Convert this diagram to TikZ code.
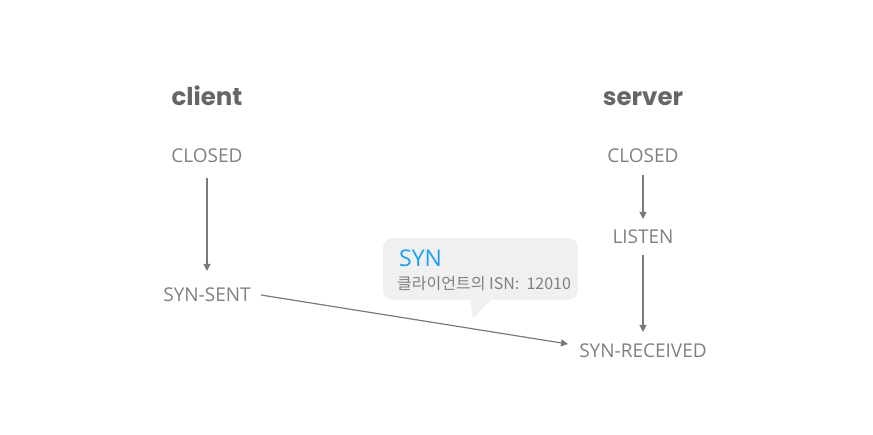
\documentclass[tikz,border=0pt]{standalone}
\usepackage{fontspec}
\setmainfont{Open Sans}
\newfontfamily\titlefont{Poppins}
\newfontfamily\krfont{Noto Sans CJK KR}
\usetikzlibrary{arrows.meta}
\definecolor{txt}{HTML}{808080}
\definecolor{ttl}{HTML}{666666}
\definecolor{arr}{HTML}{7A7A7A}
\definecolor{bub}{HTML}{F0F0F0}
\definecolor{synblue}{HTML}{1AA0F5}
\begin{document}
\begin{tikzpicture}[x=1pt,y=-1pt,
  state/.style={text=txt,font=\fontsize{19}{21}\selectfont,inner sep=0pt,anchor=center},
  title/.style={text=ttl,font=\titlefont\bfseries\fontsize{24.5}{27}\selectfont,inner sep=0pt,anchor=base},
  conn/.style={draw=arr,line width=1.2pt,-{Triangle[width=7pt,length=7pt]}}]
\useasboundingbox (0,0) rectangle (873,435);
\node[title] (client) at (207,106) {client};
\node[title] (server) at (643,106) {server};
\node[state] (cclosed) at (207,156) {CLOSED};
\node[state] (synsent) at (207,295) {SYN-SENT};
\node[state] (sclosed) at (643,156) {CLOSED};
\node[state] (listen) at (643,237) {LISTEN};
\node[state] (synrcvd) at (643,351) {SYN-RECEIVED};
% bubble
\fill[bub,rounded corners=10pt] (383,238) rectangle (578,300);
\fill[bub] (470,299) -- (473,318) -- (492,299) -- cycle;
\node[text=synblue,font=\fontsize{23}{25}\selectfont,inner sep=0pt,anchor=west] (syn) at (399,258) {SYN};
\node[text=txt,font=\krfont\fontsize{16}{18}\selectfont,inner sep=0pt,anchor=west] (isn) at (397,284) {클라이언트의 ISN:\ \ 12010};
\coordinate (a1) at (207,178);
\coordinate (a2) at (207,271);
\draw[conn] (a1) -- (a2);
\coordinate (b1) at (643,175);
\coordinate (b2) at (643,219);
\draw[conn] (b1) -- (b2);
\coordinate (c1) at (643,255);
\coordinate (c2) at (643,332);
\draw[conn] (c1) -- (c2);
\coordinate (d1) at (261,295);
\coordinate (d2) at (568,344);
\draw[conn] (d1) -- (d2);
\end{tikzpicture}
\end{document}
